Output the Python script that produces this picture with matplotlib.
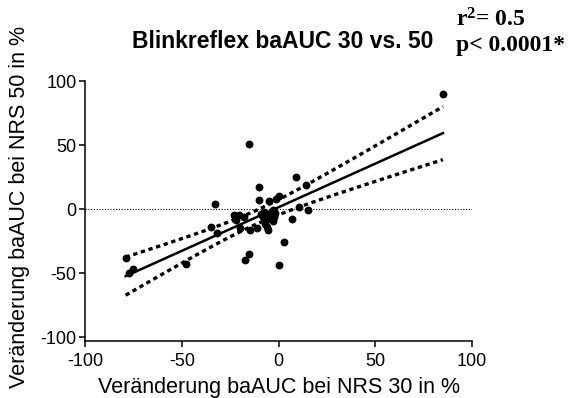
import numpy as np
import matplotlib
matplotlib.use("Agg")
import matplotlib.pyplot as plt

# Data (x: change at NRS 30, y: change at NRS 50, in %)
x_nrs30 = [85, -15, 9, 14, -10, -33, -10, -5, 0, -1.5, 10.5, 15, 7, 2.7, 0,
           -15.5, -17.5, -11, -14.5, -5.5, -6, -8, -7.5, -4, -2.5, -6.5, -3,
           -5, -9, -20.5, -23, -18, -22, -20, -35, -32, -48, -79, -75, -77.5,
           -3, -2, -7]
y_nrs50 = [90, 51, 25, 19, 17, 4, 7, 6, 10, 8, 1.5, -1, -7.5, -26, -44,
           -35, -40, -15, -16.5, -16, -14, -6, -2, -3.5, -6, -8.5, -1,
           -4.5, -4, -4.5, -5, -6, -8.5, -15, -14, -18.5, -43, -38, -47, -50,
           -9, -3, -12]

title = "Blinkreflex baAUC 30 vs. 50"
xlabel = "Veränderung baAUC bei NRS 30 in %"
ylabel = "Veränderung baAUC bei NRS 50 in %"
stats_lines = ["r$^2$= 0.5", "p< 0.0001*"]
ticks = [-100, -50, 0, 50, 100]

x = np.array(x_nrs30, dtype=float)
y = np.array(y_nrs50, dtype=float)
n = len(x)
slope, intercept = np.polyfit(x, y, 1)
resid = y - (slope * x + intercept)
s = np.sqrt(np.sum(resid ** 2) / (n - 2))
xm = x.mean()
sxx = np.sum((x - xm) ** 2)
tval = 2.02
xs = np.linspace(x.min(), x.max(), 200)
ys = slope * xs + intercept
half = tval * s * np.sqrt(1.0 / n + (xs - xm) ** 2 / sxx)

plt.rcParams['font.family'] = ['Liberation Sans', 'DejaVu Sans']
plt.rcParams['axes.unicode_minus'] = False
plt.rcParams['mathtext.fontset'] = 'custom'
plt.rcParams['mathtext.rm'] = 'Liberation Serif:bold'
plt.rcParams['mathtext.it'] = 'Liberation Serif:bold'
plt.rcParams['mathtext.bf'] = 'Liberation Serif:bold'
fig = plt.figure(figsize=(5.72, 3.98), dpi=100)
ax = fig.add_axes([85 / 572, 1 - 341 / 398, (472 - 85) / 572, (341 - 81) / 398])

ax.axhline(0, color='black', lw=0.8, ls=(0, (1, 1.5)), zorder=1)
ax.plot(xs, ys, color='black', lw=1.8, zorder=2)
ax.plot(xs, ys + half, color='black', lw=2.4, ls=(0, (1.3, 1.1)), zorder=2)
ax.plot(xs, ys - half, color='black', lw=2.4, ls=(0, (1.3, 1.1)), zorder=2)
ax.scatter(x, y, s=32, color='black', zorder=3, linewidths=0)

ax.set_xlim(-100, 100)
ax.set_ylim(-103, 100)
ax.set_xticks(ticks)
ax.set_yticks(ticks)
for sp in ['top', 'right']:
    ax.spines[sp].set_visible(False)
for sp in ['left', 'bottom']:
    ax.spines[sp].set_linewidth(1.1)
ax.tick_params(axis='both', labelsize=13, width=1.1, length=4, direction='out')
ax.tick_params(axis='x', pad=5)
ax.tick_params(axis='y', pad=2)

ax.set_xlabel(xlabel, fontsize=15.5, va='center')
ax.set_ylabel(ylabel, fontsize=15.5, va='center')
ax.xaxis.set_label_coords((279.5 - 85) / 387, (341 - 388) / 260)
ax.yaxis.set_label_coords((20 - 85) / 387, (341 - 207) / 260)

fig.text(283 / 572, 1 - 41 / 398, title, ha='center', va='center',
         fontsize=16.5, fontweight='bold')
fig.text(456 / 572, 1 - 20 / 398, stats_lines[0], ha='left', va='center',
         fontsize=17, fontweight='bold', family='Liberation Serif')
fig.text(456 / 572, 1 - 45 / 398, stats_lines[1], ha='left', va='center',
         fontsize=17, fontweight='bold', family='Liberation Serif')

fig.savefig("out.png", dpi=100)
